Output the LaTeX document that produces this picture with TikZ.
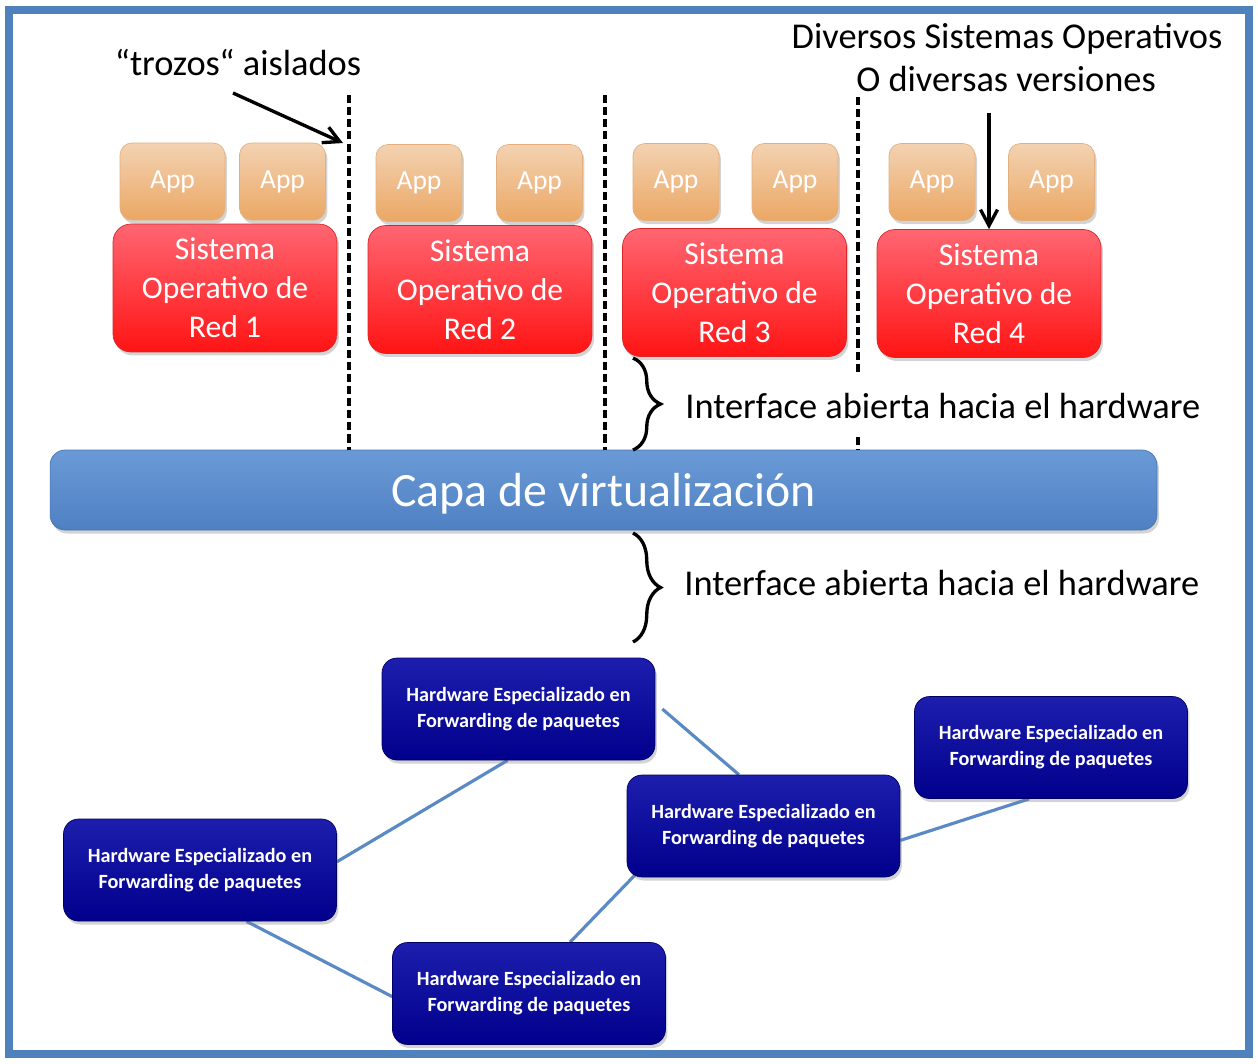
\documentclass[tikz,border=0pt]{standalone}
\usepackage{fontspec}
\setmainfont{Carlito}
\usepackage{tikz}
\usetikzlibrary{arrows.meta, positioning, shadows, decorations.pathreplacing, calc, backgrounds}
\definecolor{frameBlue}{HTML}{4F81BD}
\definecolor{linkBlue}{HTML}{5A8AC6}
\definecolor{appTop}{HTML}{F3D2B2}
\definecolor{appBot}{HTML}{EBA764}
\definecolor{appEdge}{HTML}{E2B07E}
\definecolor{redTop}{HTML}{FF6672}
\definecolor{redBot}{HTML}{FF1414}
\definecolor{redEdge}{HTML}{D92525}
\definecolor{capaTop}{HTML}{6A9AD6}
\definecolor{capaBot}{HTML}{4F80C2}
\definecolor{hwTop}{HTML}{1E1EAE}
\definecolor{hwBot}{HTML}{00008C}
\tikzset{
    softShadow/.style={drop shadow={opacity=0.35, shadow xshift=0.04cm, shadow yshift=-0.07cm}},
    appBox/.style={rectangle, rounded corners=0.24cm, draw=appEdge, top color=appTop, bottom color=appBot, softShadow,
        text=white, font=\fontsize{15.7}{19}\selectfont, minimum width=1.72cm, minimum height=1.54cm, inner sep=0pt},
    redBox/.style={rectangle, rounded corners=0.36cm, draw=redEdge, top color=redTop, bottom color=redBot, softShadow,
        text=white, align=center, font=\fontsize{18}{22.2}\selectfont, minimum width=4.48cm, minimum height=2.56cm, inner sep=0pt},
    capaBox/.style={rectangle, rounded corners=0.3cm, draw=capaBot!90!black, top color=capaTop, bottom color=capaBot, softShadow,
        text=white, font=\fontsize{27.2}{32}\selectfont, text depth=0pt, minimum width=22.14cm, minimum height=1.6cm, inner sep=0pt},
    hwBox/.style={rectangle, rounded corners=0.3cm, draw=hwBot!70!black, top color=hwTop, bottom color=hwBot, softShadow,
        text=white, align=center, font=\bfseries\fontsize{11.5}{14.8}\selectfont, minimum width=5.46cm, minimum height=2.04cm, inner sep=0pt},
    bigLabel/.style={font=\fontsize{20.7}{25}\selectfont, inner sep=0pt},
    cutLine/.style={line width=1.9pt, dash pattern=on 4.6pt off 2.3pt},
    calloutArrow/.style={line width=1.9pt, -{Straight Barb[length=3.2mm, width=3.4mm]}},
    braceLine/.style={line width=1.9pt, decorate, decoration={brace, amplitude=0.55cm}},
    hwLink/.style={line width=1.8pt, draw=linkBlue}
}
\begin{document}
\begin{tikzpicture}[x=0.02cm, y=-0.02cm]

        % --- Frame ---
        \useasboundingbox (0,0) rectangle (1258,1063);
        \draw[line width=4.6pt, draw=frameBlue] (9,10) rectangle (1249,1054);

        % --- Network operating systems (top row) ---
        \foreach \i/\x/\y in {1/225/288, 2/480/289.5, 3/734.5/292.5, 4/989/293.5} {
            \node[redBox] (red\i) at (\x,\y) {Sistema\\Operativo de\\Red \i};
        }

        % --- Apps above each system ---
        \node[appBox, minimum width=2.1cm] (app1a) at (172.5,181.5) {App};
        \node[appBox] (app1b) at (282.5,181.5) {App};
        \node[appBox] (app2a) at (419,183) {App};
        \node[appBox] (app2b) at (539.5,183) {App};
        \node[appBox] (app3a) at (676,182) {App};
        \node[appBox] (app3b) at (795,182) {App};
        \node[appBox] (app4a) at (932,182) {App};
        \node[appBox] (app4b) at (1051.5,182) {App};

        % --- Virtualization layer ---
        \node[capaBox] (capa) at (603.5,490) {Capa de virtualización};

        % --- Cuts between slices ---
        \coordinate (cut1) at (349,95);
        \coordinate (cut2) at (605,95);
        \coordinate (cut3) at (858,97);
        \draw[cutLine] (cut1) -- (cut1 |- capa.north);
        \draw[cutLine] (cut2) -- (cut2 |- capa.north);
        \draw[cutLine] (cut3) -- ++(0,276);
        \draw[cutLine] (858,437) -- (cut3 |- capa.north);

        % --- Callouts ---
        \node[bigLabel, anchor=base] (trozos) at (238,75) {“trozos“ aislados};
        \coordinate (trozosTail) at (233,93);
        \coordinate (trozosHead) at (343,143);
        \draw[calloutArrow] (trozosTail) -- (trozosHead);

        \node[bigLabel, anchor=base] (diversos) at (1007,48) {Diversos Sistemas Operativos};
        \node[bigLabel, anchor=base] (versiones) at (1006,91) {O diversas versiones};
        \coordinate (diversosTail) at (989,113);
        \draw[calloutArrow] (diversosTail) -- (red4.north);

        % --- Open interfaces (braces) ---
        \coordinate (braceTopA) at (633,358);
        \coordinate (braceTopB) at (633,450);
        \draw[braceLine] (braceTopA) -- (braceTopB);
        \node[bigLabel, anchor=base west] (ifaceTop) at (685,418) {Interface abierta hacia el hardware};

        \coordinate (braceLowA) at (633,533);
        \coordinate (braceLowB) at (633,642);
        \draw[braceLine] (braceLowA) -- (braceLowB);
        \node[bigLabel, anchor=base west] (ifaceLow) at (684,595) {Interface abierta hacia el hardware};

        % --- Forwarding hardware network ---
        \node[hwBox] (hw1) at (518.5,709) {Hardware Especializado en\\Forwarding de paquetes};
        \node[hwBox] (hw2) at (200,870) {Hardware Especializado en\\Forwarding de paquetes};
        \node[hwBox] (hw3) at (763.5,826) {Hardware Especializado en\\Forwarding de paquetes};
        \node[hwBox] (hw4) at (1051,747.5) {Hardware Especializado en\\Forwarding de paquetes};
        \node[hwBox] (hw5) at (529,993.5) {Hardware Especializado en\\Forwarding de paquetes};

        % links go under the boxes
        \begin{scope}[on background layer]
            \draw[hwLink] ($(hw1.south west)!0.46!(hw1.south east)$) -- ($(hw2.north east)!0.42!(hw2.south east)$);
            \draw[hwLink] ($(hw1.east)+(7,0)$) -- ($(hw3.north west)!0.41!(hw3.north east)$);
            \draw[hwLink] ($(hw3.south west)+(8,-2)$) -- ($(hw5.north west)!0.65!(hw5.north east)$);
            \draw[hwLink] ($(hw3.north east)!0.64!(hw3.south east)$) -- ($(hw4.south west)!0.42!(hw4.south east)$);
            \draw[hwLink] ($(hw2.south west)!0.67!(hw2.south east)$) -- ($(hw5.north west)!0.53!(hw5.south west)$);
        \end{scope}

    \end{tikzpicture}
\end{document}
